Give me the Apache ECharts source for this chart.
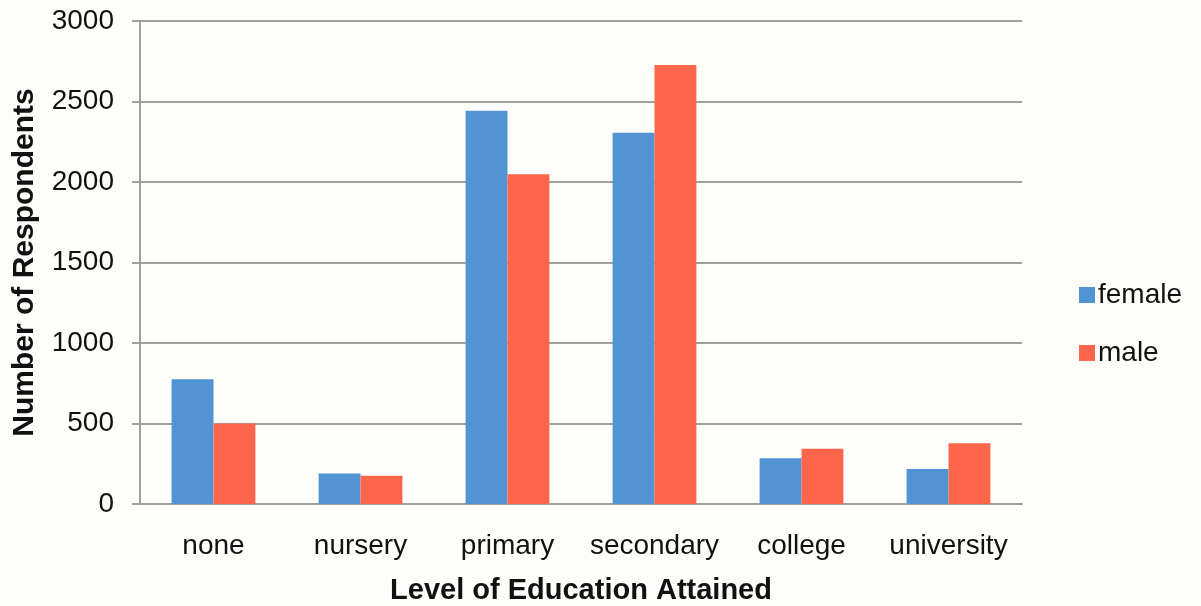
<!DOCTYPE html>
<html>
<head>
<meta charset="utf-8">
<script src="https://cdn.jsdelivr.net/npm/echarts@6/dist/echarts.min.js"></script>
<style>
  html, body { margin: 0; padding: 0; background: #fdfdfa; }
  #chart { width: 1201px; height: 606px; }
</style>
</head>
<body>
<div id="chart"></div>
<script>
// categories and values
var categories = ['none', 'nursery', 'primary', 'secondary', 'college', 'university'];
var female = [775, 190, 2443, 2306, 284, 217];
var male = [500, 175, 2048, 2727, 343, 377];
var yTicks = [0, 500, 1000, 1500, 2000, 2500, 3000];

var chart = echarts.init(document.getElementById('chart'));
var font = 'Liberation Sans, Arial, sans-serif';

chart.setOption({
  backgroundColor: '#fdfdfa',
  animation: false,
  textStyle: { fontFamily: font },
  grid: { left: 140, right: 179, top: 21, bottom: 102, outerBoundsMode: 'none' },
  legend: {
    orient: 'vertical',
    left: 1074,
    top: 276,
    itemWidth: 16,
    itemHeight: 16,
    itemGap: 30,
    icon: 'rect',
    textStyle: { fontSize: 28, color: '#111', fontFamily: font, padding: [0, 0, 0, -2] },
    data: ['female', 'male']
  },
  xAxis: {
    type: 'category',
    data: categories,
    name: 'Level of Education Attained',
    nameLocation: 'middle',
    nameGap: 72,
    nameTextStyle: { fontSize: 29, fontWeight: 'bold', color: '#111', fontFamily: font },
    axisLine: { lineStyle: { color: '#a0a0a0', width: 2 } },
    axisTick: { show: false },
    axisLabel: { fontSize: 28, color: '#111', margin: 28, interval: 0 }
  },
  yAxis: {
    type: 'value',
    min: yTicks[0],
    max: yTicks[yTicks.length - 1],
    interval: 500,
    name: 'Number of Respondents',
    nameLocation: 'middle',
    nameGap: 100,
    nameTextStyle: { fontSize: 30, fontWeight: 'bold', color: '#111', fontFamily: font },
    axisLine: { show: true, lineStyle: { color: '#a0a0a0', width: 2 } },
    axisTick: { show: true, length: 8, inside: false, lineStyle: { color: '#a0a0a0', width: 2 } },
    axisLabel: { fontSize: 28, color: '#111', margin: 26, formatter: function (v) { return String(v); } },
    splitLine: { lineStyle: { color: '#a0a0a0', width: 2 } }
  },
  series: [
    {
      name: 'female',
      type: 'bar',
      data: female,
      barGap: '0%',
      barCategoryGap: '43%',
      itemStyle: { color: '#5193d3' }
    },
    {
      name: 'male',
      type: 'bar',
      data: male,
      itemStyle: { color: '#fe664b' }
    }
  ]
});
</script>
</body>
</html>
